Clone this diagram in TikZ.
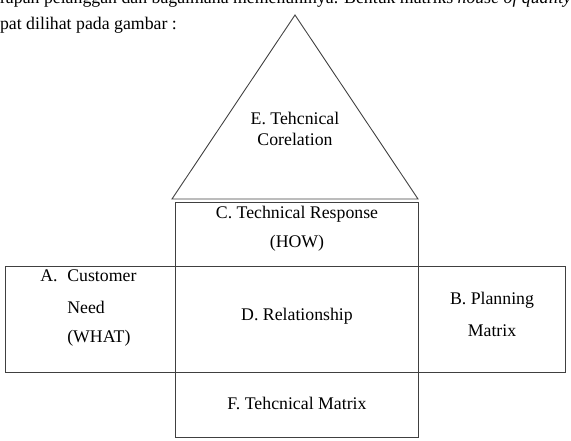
\documentclass[tikz,border=0pt]{standalone}
\usepackage{fontspec}
\setmainfont{Liberation Serif}
\begin{document}
\begin{tikzpicture}[x=0.675pt,y=-0.675pt,
  boxline/.style={draw=black!75,line width=0.6pt},
  lbl/.style={font=\fontsize{12}{14}\selectfont,inner sep=0pt}]
\useasboundingbox (0,0) rectangle (571,441);
\clip (0,0) rectangle (571,441);
% running text
\node[lbl,anchor=base west] (t1) at (-17,4) {harapan pelanggan dan bagaimana memenuhinya. Bentuk matriks \textit{house of quality}};
\node[lbl,anchor=base west] (t2) at (-17,30) {dapat dilihat pada gambar :};
% triangle
\coordinate (apex) at (295,15);
\coordinate (bl) at (172,199);
\coordinate (br) at (418,199);
\draw[boxline] (apex) -- (bl) -- (br) -- cycle;
\node[lbl] (e1) at (295,118) {E. Tehcnical};
\node[lbl] (e2) at (295,139) {Corelation};
% boxes
\draw[boxline] (175,202) rectangle (418,266);
\draw[boxline] (5,266) rectangle (175,372);
\draw[boxline] (175,266) rectangle (418,372);
\draw[boxline] (418,266) rectangle (565,372);
\draw[boxline] (175,372) rectangle (418,437);
% texts
\node[lbl] (c1) at (297,214) {C. Technical Response};
\node[lbl] (c2) at (297,243) {(HOW)};
\node[lbl,anchor=west] (a0) at (40,276) {A.};
\node[lbl,anchor=west] (a1) at (67,276) {Customer};
\node[lbl,anchor=west] (a2) at (67,307) {Need};
\node[lbl,anchor=west] (a3) at (67,338) {(WHAT)};
\node[lbl] (d) at (297,316) {D. Relationship};
\node[lbl] (b1) at (492,300) {B. Planning};
\node[lbl] (b2) at (492,331) {Matrix};
\node[lbl] (f) at (297,403) {F. Tehcnical Matrix};
\end{tikzpicture}
\end{document}
